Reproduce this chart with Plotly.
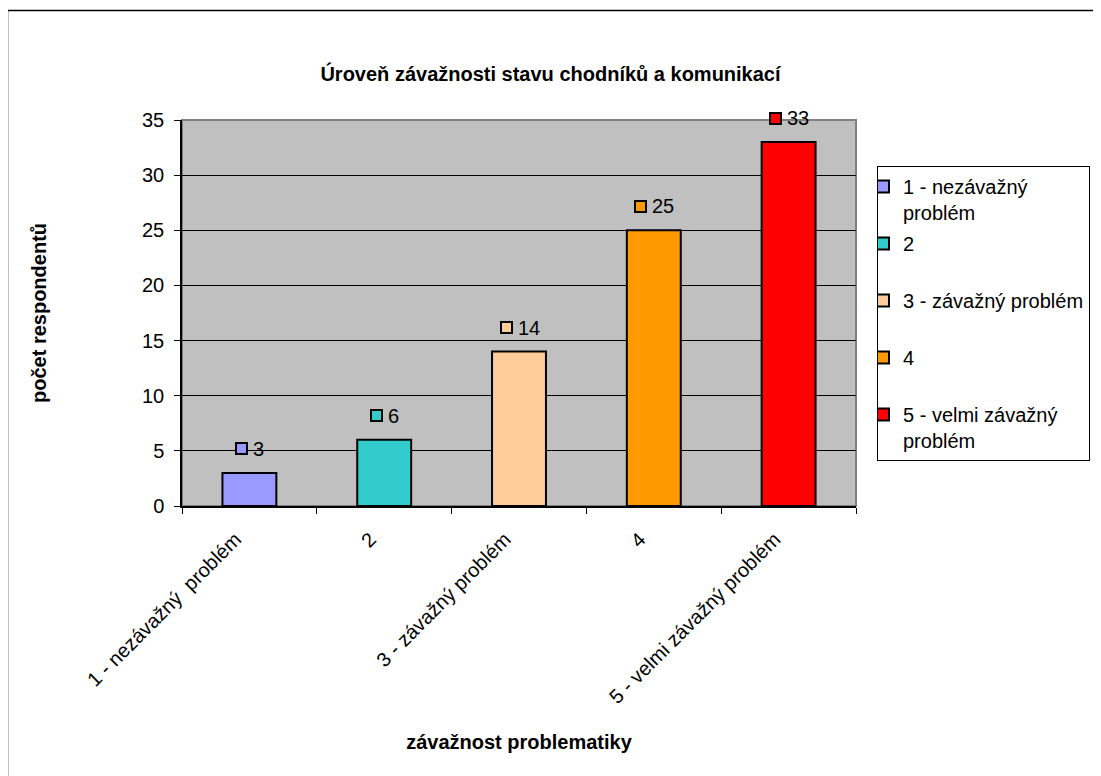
import plotly.graph_objects as go

categories = ["1 - nezávažný  problém", "2", "3 - závažný problém", "4", "5 - velmi závažný problém"]
values = [3, 6, 14, 25, 33]
legend_names = ["1 - nezávažný<br>problém", "2<br>\u00a0", "3 - závažný problém<br>\u00a0", "4<br>\u00a0", "5 - velmi závažný<br>problém"]
colors = ["#9999FF", "#33CCCC", "#FFCC99", "#FF9900", "#FF0000"]
y_ticks = [0, 5, 10, 15, 20, 25, 30, 35]

FONT = "Liberation Sans, Arial, sans-serif"
FS = 20
OFF = 8  # page body margin
W, H = 1101 - OFF, 776 - OFF
L, T = 182 - OFF, 120 - OFF
R, B = W - (856 - OFF), H - (506 - OFF)
pw, ph = W - L - R, H - T - B

fig = go.Figure()
for i, (cat, v, name, col) in enumerate(zip(categories, values, legend_names, colors)):
    fig.add_trace(go.Bar(
        x=[cat], y=[v], name=name, legendgroup=f"g{i}",
        marker=dict(color=col, line=dict(color="black", width=2)),
        width=0.4, hoverinfo="x+y",
    ))

# data labels with legend keys
digit_w = 11
sq = 13
gap = 4
lift = 24
for i, (v, col) in enumerate(zip(values, colors)):
    tw = len(str(v)) * digit_w
    total = sq + gap + tw
    start = -total / 2
    fig.add_annotation(x=i, y=v, xref="x", yref="y", text=" ", showarrow=False,
                       width=sq - 4, height=sq - 4, borderpad=0, borderwidth=2,
                       bordercolor="black", bgcolor=col,
                       xanchor="center", yanchor="middle",
                       xshift=start + sq / 2, yshift=lift,
                       font=dict(size=4))
    fig.add_annotation(x=i, y=v, xref="x", yref="y", text=str(v), showarrow=False,
                       xanchor="left", yanchor="middle", xshift=start + sq + gap, yshift=lift,
                       borderpad=0,
                       font=dict(family=FONT, size=FS, color="black"))

# plot area frame (gray top/right)
fig.add_shape(type="rect", xref="x domain", yref="y domain", x0=0, x1=1, y0=0, y1=1,
              line=dict(color="#808080", width=2), layer="below")
# outer chart border
fig.add_shape(type="rect", xref="paper", yref="paper",
              x0=(7.5 - OFF - L) / pw, x1=(1250 - L) / pw,
              y0=(ph + T - 1000) / ph, y1=(ph + T - (10.5 - OFF)) / ph,
              line=dict(color="black", width=1.5))

fig.update_layout(
    width=W, height=H,
    margin=dict(l=L, r=R, t=T, b=B, autoexpand=False),
    paper_bgcolor="white", plot_bgcolor="#C0C0C0",
    barmode="overlay",
    font=dict(family=FONT, size=FS, color="black"),
    title=dict(text="<b>Úroveň závažnosti stavu chodníků a komunikací</b>",
               x=0.5 - OFF / 2 / W, xref="container", xanchor="center",
               y=1 - (74 - OFF) / H, yanchor="middle",
               font=dict(family=FONT, size=FS, color="black")),
    legend=dict(x=(877 - OFF - L) / pw, y=(ph + T - (166 - OFF)) / ph,
                xanchor="left", yanchor="top",
                bordercolor="black", borderwidth=1, bgcolor="white",
                font=dict(family=FONT, size=FS, color="black"),
                tracegroupgap=2, valign="top", traceorder="grouped",
                indentation=-15, entrywidth=240, entrywidthmode="pixels"),
    showlegend=True,
)
fig.update_xaxes(
    type="category", categoryorder="array", categoryarray=categories,
    tickson="boundaries", ticks="outside", ticklen=6, tickcolor="black",
    tickangle=-45, ticklabelshift=-14, ticklabelstandoff=12,
    showline=True, linecolor="black", linewidth=1.5,
    showgrid=False, automargin=False,
    tickfont=dict(family=FONT, size=FS, color="black"),
    title=dict(text="<b>závažnost problematiky</b>", standoff=28,
               font=dict(family=FONT, size=FS, color="black")),
)
fig.update_yaxes(
    range=[0, 35], tickvals=y_ticks, ticks="outside", ticklen=6, tickcolor="black",
    ticklabelstandoff=6,
    showline=True, linecolor="black", linewidth=1.5,
    showgrid=True, gridcolor="black", gridwidth=1, zeroline=False, automargin=False,
    tickfont=dict(family=FONT, size=FS, color="black"),
    title=dict(text="<b>počet respondentů</b>", standoff=90,
               font=dict(family=FONT, size=FS, color="black")),
)

fig.write_html("out.html")
